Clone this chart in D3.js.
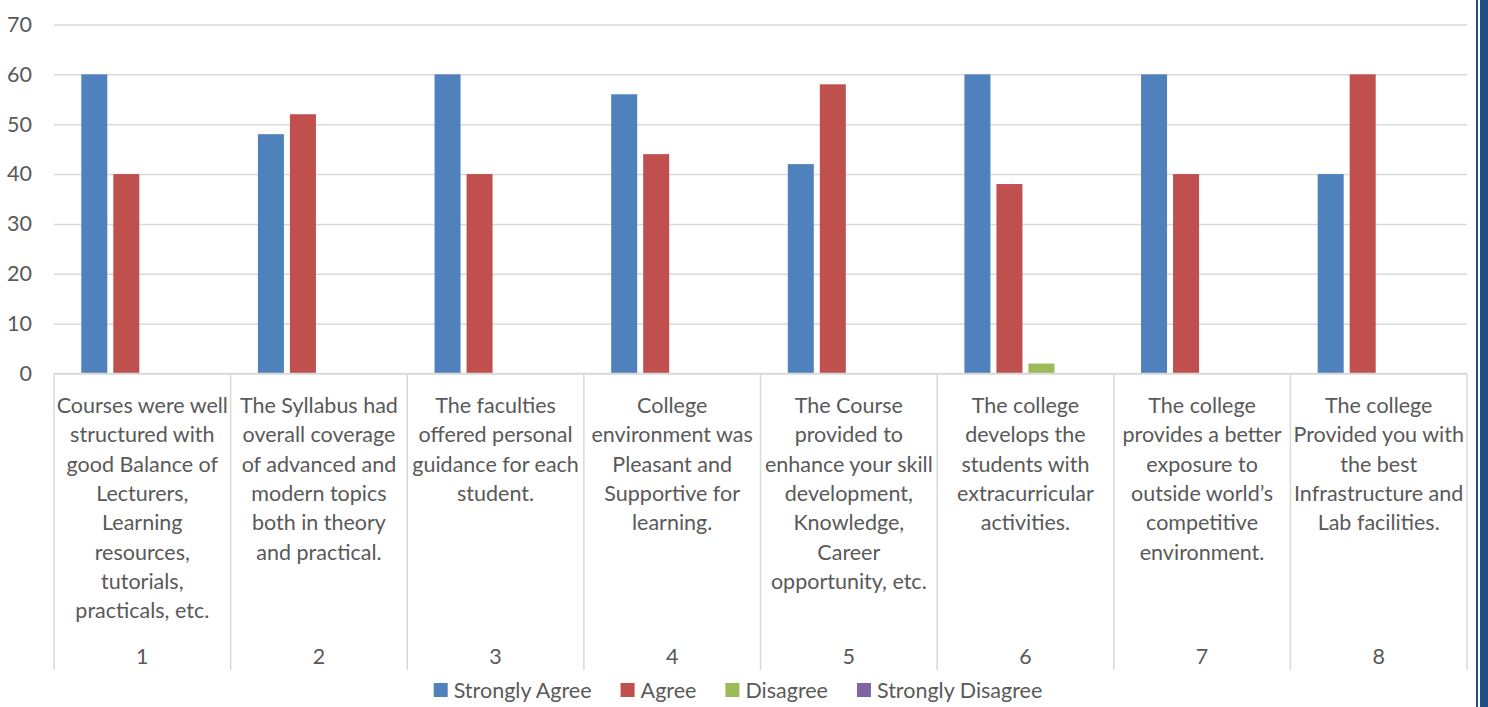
<!DOCTYPE html>
<html>
<head>
<meta charset="utf-8">
<script src="https://cdn.jsdelivr.net/npm/d3@7"></script>
<style>
  body { margin: 0; background: #fff; }
  text { font-family: Lato, "Open Sans", sans-serif; fill: #595959; }
</style>
</head>
<body>
<div id="chart-area"></div>
<script>
const categories = ['1', '2', '3', '4', '5', '6', '7', '8']
const series = ['Strongly Agree', 'Agree', 'Disagree', 'Strongly Disagree']
const colors = ['#4F81BD', '#C0504D', '#9BBB59', '#8064A2']
const stronglyAgree = [60, 48, 60, 56, 42, 60, 60, 40]
const agree = [40, 52, 40, 44, 58, 38, 40, 60]
const disagree = [0, 0, 0, 0, 0, 2, 0, 0]
const stronglyDisagree = [0, 0, 0, 0, 0, 0, 0, 0]
const yTicks = [0, 10, 20, 30, 40, 50, 60, 70]
const questions = [
  ['Courses were well', 'structured with', 'good Balance of', 'Lecturers,', 'Learning', 'resources,', 'tutorials,', 'practicals, etc.'],
  ['The Syllabus had', 'overall coverage', 'of advanced and', 'modern topics', 'both in theory', 'and practical.'],
  ['The faculties', 'offered personal', 'guidance for each', 'student.'],
  ['College', 'environment was', 'Pleasant and', 'Supportive for', 'learning.'],
  ['The Course', 'provided to', 'enhance your skill', 'development,', 'Knowledge,', 'Career', 'opportunity, etc.'],
  ['The college', 'develops the', 'students with', 'extracurricular', 'activities.'],
  ['The college', 'provides a better', 'exposure to', 'outside world\u2019s', 'competitive', 'environment.'],
  ['The college', 'Provided you with', 'the best', 'Infrastructure and', 'Lab facilities.']
]
const values = [stronglyAgree, agree, disagree, stronglyDisagree]

const W = 1488, H = 707
const plotLeft = 54, plotRight = 1467, plotTop = 24.5, plotBottom = 373.5
const fs = 21.5

const svg = d3.select('#chart-area').append('svg')
  .attr('width', W)
  .attr('height', H)

const x0 = d3.scaleBand()
  .domain(categories)
  .range([plotLeft, plotRight])
  .padding(0)

const x1 = d3.scaleBand()
  .domain(series)
  .range([0, x0.bandwidth()])
  .paddingInner(0.1875)
  .paddingOuter(0.853)

const y = d3.scaleLinear()
  .domain([0, 70])
  .range([plotBottom, plotTop])

// gridlines + y labels
const yAxis = svg.append('g')
  .attr('transform', `translate(${plotLeft},0)`)
  .call(d3.axisLeft(y).tickValues(yTicks).tickSize(-(plotRight - plotLeft)).tickPadding(22))
yAxis.select('.domain').remove()
yAxis.selectAll('line').attr('stroke', '#d9d9d9').attr('stroke-width', 1.5)
yAxis.selectAll('text')
  .style('font-family', 'Lato, sans-serif')
  .attr('font-size', fs)
  .attr('fill', '#595959')

// bars
categories.forEach((c, i) => {
  series.forEach((s, j) => {
    const v = values[j][i]
    if (v <= 0) return
    svg.append('rect')
      .attr('x', x0(c) + x1(s))
      .attr('y', y(v))
      .attr('width', x1.bandwidth())
      .attr('height', y(0) - y(v))
      .attr('fill', colors[j])
  })
})

// category axis
svg.append('line')
  .attr('x1', plotLeft).attr('x2', plotRight)
  .attr('y1', y(0)).attr('y2', y(0))
  .attr('stroke', '#d9d9d9').attr('stroke-width', 1.5)

const edges = categories.map(c => x0(c)).concat([plotRight])
svg.selectAll('.sep').data(edges).enter().append('line')
  .attr('x1', d => d).attr('x2', d => d)
  .attr('y1', y(0)).attr('y2', 670)
  .attr('stroke', '#d9d9d9').attr('stroke-width', 1.5)

const labels = svg.selectAll('.qlabel').data(categories).enter().append('text')
  .attr('text-anchor', 'middle')
  .attr('font-size', fs)
  .attr('dominant-baseline', 'central')
labels.each(function(c, i) {
  const t = d3.select(this)
  questions[i].forEach((line, k) => {
    t.append('tspan')
      .attr('x', x0(c) + x0.bandwidth() / 2)
      .attr('y', 405 + k * 29.3)
      .text(line)
  })
})

svg.selectAll('.num').data(categories).enter().append('text')
  .attr('x', d => x0(d) + x0.bandwidth() / 2)
  .attr('y', 656)
  .attr('text-anchor', 'middle')
  .attr('dominant-baseline', 'central')
  .attr('font-size', fs)
  .text(d => d)

// legend
const legend = svg.append('g')
let lx = 0
const gap = 29
series.forEach((s, j) => {
  const g = legend.append('g').attr('transform', `translate(${lx},0)`)
  g.append('rect').attr('x', 0).attr('y', -7).attr('width', 14).attr('height', 14).attr('fill', colors[j])
  const t = g.append('text').attr('x', 20).attr('y', 0)
    .attr('dominant-baseline', 'central')
    .attr('font-size', fs)
    .text(s)
  lx += 20 + t.node().getComputedTextLength() + gap
})
const legendW = lx - gap
legend.attr('transform', `translate(${738 - legendW / 2},690)`)

// right border
svg.append('rect').attr('x', 1476).attr('y', 0).attr('width', 2).attr('height', H).attr('fill', '#1f4e83')
svg.append('rect').attr('x', 1480).attr('y', 0).attr('width', 8).attr('height', H).attr('fill', '#1f4e83')
</script>
</body>
</html>
